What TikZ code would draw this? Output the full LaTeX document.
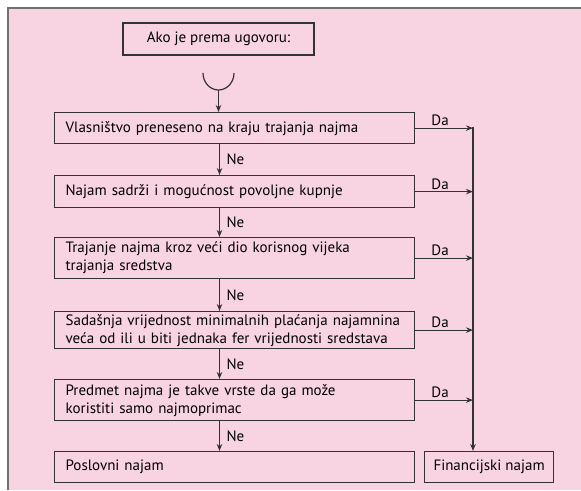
\documentclass[tikz,border=0pt]{standalone}
\usepackage{fontspec}
\setmainfont{PT Sans}
\usetikzlibrary{arrows.meta}
\definecolor{bgpink}{HTML}{F8D3E1}
\definecolor{ln}{HTML}{333333}
\definecolor{frame}{HTML}{707070}
\tikzset{
  boxnode/.style={draw=ln, line width=1.2pt, anchor=north west, inner xsep=11pt, inner ysep=0pt,
    align=left, font=\fontsize{15}{18}\selectfont, minimum height=#1, text width=338pt},
  arr/.style={draw=ln, line width=1.2pt, -{Stealth[length=7pt,width=5.5pt]}},
  lbl/.style={font=\fontsize{15}{17}\selectfont, inner sep=1.5pt}
}
\begin{document}
\begin{tikzpicture}[x=1pt,y=-1pt]
\useasboundingbox (0,0) rectangle (581,490);
\fill[white] (0,0) rectangle (581,490);
\fill[bgpink] (8,8) rectangle (581,490);
\draw[frame, line width=1.4pt] (8,490) -- (8,8) -- (581,8);
% start box
\node[draw=ln, line width=1.2pt, minimum width=191pt, minimum height=32pt, inner sep=0pt,
  font=\fontsize{15}{17}\selectfont] (s) at (218.5,39) {Ako je prema ugovoru:};
% cup
\draw[ln, line width=1.2pt] (203,73) arc[start angle=180, end angle=0, x radius=15.5, y radius=17];
\coordinate (cupb) at (218.5,90);
\coordinate (ax) at (219.5,0);
\coordinate (vl) at (473,127);
% boxes
\node[boxnode=31pt] (b1) at (54,112) {Vlasništvo preneseno na kraju trajanja najma};
\node[boxnode=32pt] (b2) at (54,175) {Najam sadrži i mogućnost povoljne kupnje};
\node[boxnode=41pt] (b3) at (54,237) {Trajanje najma kroz veći dio korisnog vijeka\\trajanja sredstva};
\node[boxnode=37pt] (b4) at (54,311) {Sadašnja vrijednost minimalnih plaćanja najamnina\\veća od ili u biti jednaka fer vrijednosti sredstava};
\node[boxnode=41pt] (b5) at (54,379) {Predmet najma je takve vrste da ga može\\koristiti samo najmoprimac};
\node[boxnode=31pt] (p) at (54,451) {Poslovni najam};
\node[draw=ln, line width=1.2pt, anchor=north west, minimum width=129pt, minimum height=31pt, inner sep=0pt,
  font=\fontsize{15}{17}\selectfont] (f) at (424,451) {Financijski najam};
% arrows
\draw[arr] (cupb) -- (b1.north -| cupb);
\foreach \a/\b in {b1/b2, b2/b3, b3/b4, b4/b5, b5/p}{
  \draw[arr] (\a.south -| ax) -- node[lbl, right, xshift=5pt]{Ne} (\b.north -| ax);
}
\foreach \a in {b1,b2,b3,b4,b5}{
  \draw[arr] (\a.east) -- node[lbl, above, xshift=-4pt]{Da} (\a.east -| vl);
}
\draw[arr] (vl) -- (vl |- f.north);
\end{tikzpicture}
\end{document}
